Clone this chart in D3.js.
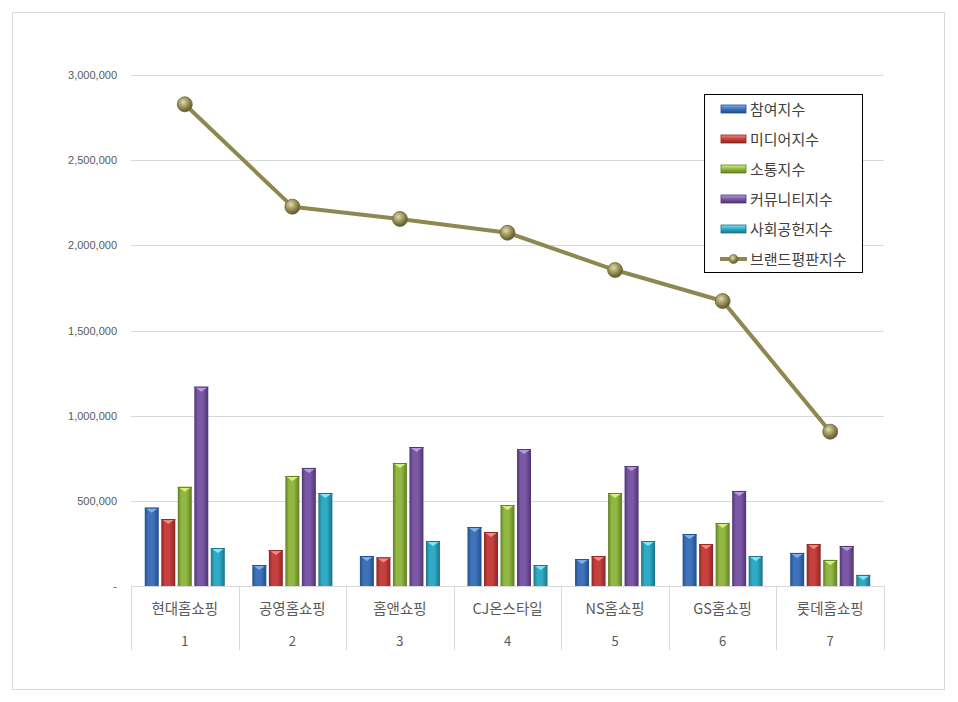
<!DOCTYPE html>
<html><head><meta charset="utf-8">
<script src="https://cdn.jsdelivr.net/npm/d3@7"></script>
<style>
html,body{margin:0;padding:0;background:#fff;}
svg{display:block;font-family:"Noto Sans CJK KR","Noto Sans",sans-serif;}
</style></head>
<body>
<svg id="chart" width="958" height="702"></svg>
<script>
const categories = ["현대홈쇼핑","공영홈쇼핑","홈앤쇼핑","CJ온스타일","NS홈쇼핑","GS홈쇼핑","롯데홈쇼핑"];
const ranks = ["1","2","3","4","5","6","7"];
const seriesNames = ["참여지수","미디어지수","소통지수","커뮤니티지수","사회공헌지수"];
const participation = [460000,123000,176000,346000,158000,305000,194000];
const media = [393000,211000,168000,317000,176000,246000,246000];
const communication = [582000,646000,722000,475000,546000,370000,153000];
const community = [1170000,693000,816000,804000,704000,558000,235000];
const contribution = [223000,546000,264000,123000,264000,176000,65000];
const lineName = "브랜드평판지수";
const brandIndex = [2828000,2227000,2155000,2074000,1855000,1673000,906000];
const yTicks = [0,500000,1000000,1500000,2000000,2500000,3000000];

const seriesValues = [participation, media, communication, community, contribution];
const colors = [
  {base:"#3f72b9", dark:"#1f4f8f", light:"#7fb0ea"},
  {base:"#c6413e", dark:"#8e2524", light:"#f08a88"},
  {base:"#93b743", dark:"#5f7f22", light:"#d6f07a"},
  {base:"#7b58a6", dark:"#4e3573", light:"#b79be0"},
  {base:"#2fabc6", dark:"#1a7388", light:"#86e4f6"}
];
const lineColor = "#8f8752";

const svg = d3.select("#chart");
const defs = svg.append("defs");
colors.forEach((c,i)=>{
  const g = defs.append("linearGradient").attr("id","bg"+i).attr("x1","0").attr("x2","1").attr("y1","0").attr("y2","0");
  g.append("stop").attr("offset","0").attr("stop-color",c.dark);
  g.append("stop").attr("offset","0.25").attr("stop-color",c.base);
  g.append("stop").attr("offset","0.6").attr("stop-color",c.base);
  g.append("stop").attr("offset","1").attr("stop-color",c.dark);
  const lg = defs.append("linearGradient").attr("id","lg"+i).attr("x1","0").attr("x2","0").attr("y1","0").attr("y2","1");
  lg.append("stop").attr("offset","0").attr("stop-color",c.light);
  lg.append("stop").attr("offset","0.5").attr("stop-color",c.base);
  lg.append("stop").attr("offset","1").attr("stop-color",c.dark);
});
const rg = defs.append("radialGradient").attr("id","marker").attr("cx","0.4").attr("cy","0.35").attr("r","0.65");
rg.append("stop").attr("offset","0").attr("stop-color","#e2dcae");
rg.append("stop").attr("offset","0.45").attr("stop-color","#a59d62");
rg.append("stop").attr("offset","1").attr("stop-color","#5c5630");

// outer border
svg.append("rect").attr("x",12.5).attr("y",12.5).attr("width",932).attr("height",677)
  .attr("fill","#fff").attr("stroke","#d9d9d9").attr("stroke-width",1);

const x = d3.scaleBand().domain(categories).range([131,884]).padding(0);
const y = d3.scaleLinear().domain([0,3000000]).range([586,75]);

// gridlines
svg.append("g").selectAll("line").data(yTicks.filter(d=>d>0)).join("line")
  .attr("x1",131).attr("x2",884)
  .attr("y1",d=>Math.round(y(d))+0.5).attr("y2",d=>Math.round(y(d))+0.5)
  .attr("stroke","#d9d9d9").attr("stroke-width",1);

// y axis labels
const yAxis = d3.axisLeft(y).tickValues(yTicks).tickSize(0).tickPadding(0)
  .tickFormat(d=> d===0 ? "-" : d3.format(",")(d));
const ya = svg.append("g").attr("transform","translate(117,0)").call(yAxis);
ya.select(".domain").remove();
ya.selectAll("text").attr("fill","#595959").style("font-size","11px")
  .style("font-family","'Liberation Sans','DejaVu Sans',sans-serif");

// category axis box
const ax = svg.append("g");
ax.append("line").attr("x1",131).attr("x2",884).attr("y1",586.5).attr("y2",586.5).attr("stroke","#d9d9d9");
const bounds = categories.map(c=>x(c)).concat([884]);
ax.selectAll("line.div").data(bounds).join("line").attr("class","div")
  .attr("x1",d=>Math.round(d)+0.5).attr("x2",d=>Math.round(d)+0.5)
  .attr("y1",586).attr("y2",650).attr("stroke","#d9d9d9");
ax.selectAll("text.cat").data(categories).join("text").attr("class","cat")
  .attr("x",d=>x(d)+x.bandwidth()/2).attr("y",614).attr("text-anchor","middle")
  .attr("fill","#595959").style("font-size","14.5px").text(d=>d);
ax.selectAll("text.rank").data(ranks).join("text").attr("class","rank")
  .attr("x",(d,i)=>x(categories[i])+x.bandwidth()/2).attr("y",646).attr("text-anchor","middle")
  .attr("fill","#595959").style("font-size","13px").text(d=>d);

// bars
const bw = x.bandwidth();
const barW = bw*0.13;
const stepW = bw*0.1535;
const groupW = 4*stepW + barW;

seriesValues.forEach((vals,si)=>{
  const g = svg.append("g");
  vals.forEach((v,ci)=>{
    const x0 = x(categories[ci]) + (bw-groupW)/2 + si*stepW;
    const y0 = y(v);
    const h = y(0)-y0;
    g.append("rect").attr("x",x0).attr("y",y0).attr("width",barW).attr("height",h)
      .attr("fill","url(#bg"+si+")");
    g.append("path").attr("d",`M${x0},${y0}L${x0+barW},${y0}L${x0+barW/2},${y0+5}Z`)
      .attr("fill",colors[si].light);
    g.append("line").attr("x1",x0).attr("x2",x0+barW).attr("y1",y0+0.5).attr("y2",y0+0.5)
      .attr("stroke",colors[si].dark).attr("stroke-width",1);
  });
});

// line
const lx = (d,i)=>x(categories[i])+bw/2;
svg.append("path").datum(brandIndex)
  .attr("d",d3.line().x(lx).y(d=>y(d)))
  .attr("fill","none").attr("stroke",lineColor).attr("stroke-width",4).attr("stroke-linejoin","round");
svg.append("g").selectAll("circle").data(brandIndex).join("circle")
  .attr("cx",lx).attr("cy",d=>y(d)).attr("r",7.5)
  .attr("fill","url(#marker)").attr("stroke","#6e6838").attr("stroke-width",0.8);

// legend
const leg = svg.append("g");
leg.append("rect").attr("x",704.5).attr("y",94.5).attr("width",158).attr("height",178)
  .attr("fill","#fff").attr("stroke","#000").attr("stroke-width",1);
seriesNames.forEach((n,i)=>{
  const cy = 109 + i*30;
  leg.append("rect").attr("x",721).attr("y",cy-4).attr("width",25).attr("height",8)
    .attr("fill","url(#lg"+i+")").attr("stroke",colors[i].dark).attr("stroke-width",0.8);
  leg.append("text").attr("x",750).attr("y",cy+5.5).attr("fill","#404040")
    .style("font-size","15px").text(n);
});
{
  const cy = 109 + 5*30;
  leg.append("line").attr("x1",720).attr("x2",747).attr("y1",cy).attr("y2",cy)
    .attr("stroke",lineColor).attr("stroke-width",4);
  leg.append("circle").attr("cx",733.5).attr("cy",cy).attr("r",4.5)
    .attr("fill","url(#marker)").attr("stroke","#6e6838").attr("stroke-width",0.6);
  leg.append("text").attr("x",750).attr("y",cy+5.5).attr("fill","#404040")
    .style("font-size","15px").text(lineName);
}
</script>
</body></html>
